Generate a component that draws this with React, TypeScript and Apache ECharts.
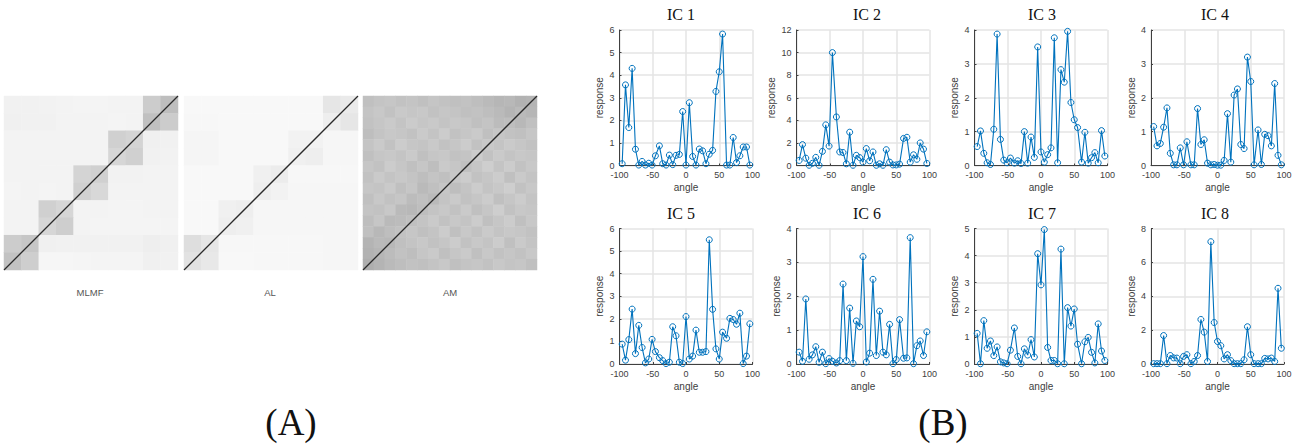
import React, { useEffect, useRef } from "react";
import * as echarts from "echarts";

const angles = [-96,-91,-86,-81,-76,-71,-66,-61,-56,-51,-46,-40,-35,-30,-25,-20,-15,-10,-5,0,5,10,15,20,25,30,35,40,45,50,55,61,66,71,76,81,86,91,96];

const ic1 = [0.08,3.57,1.68,4.3,0.72,0.02,0.18,0.02,0.1,0.02,0.43,0.87,0.08,0.02,0.46,0.04,0.45,0.49,2.39,0.02,2.78,0.4,0.02,0.73,0.65,0.08,0.5,0.67,3.28,4.15,5.82,0.02,0.02,1.24,0.13,0.43,0.82,0.82,0.02];
const ic2 = [0.45,1.85,0.65,0.02,0.2,0.72,0.02,1.25,3.6,1.72,10,4.3,1.2,1.15,0.15,2.95,0.02,0.9,0.7,0.3,1.5,0.42,1.2,0.02,0.15,0.02,1.4,0.3,0.05,0.05,0.12,2.4,2.5,0.3,0.95,0.55,2.0,1.45,0.18];
const ic3 = [0.56,1.02,0.36,0.08,0.03,1.07,3.88,0.77,0.16,0.08,0.22,0.07,0.14,0.06,1.0,0.07,0.84,0.24,3.5,0.4,0.1,0.32,0.52,3.77,0.08,2.83,2.46,3.96,1.86,1.35,1.12,0.1,0.98,0.07,0.23,0.38,0.08,1.03,0.28];
const ic4 = [1.15,0.58,0.65,1.13,1.7,0.36,0.02,0.02,0.52,0.02,0.7,0.02,0.02,1.68,0.62,0.76,0.07,0.02,0.03,0.01,0.01,0.15,1.53,0.1,2.08,2.26,0.62,0.5,3.2,2.48,0.02,1.05,0.03,0.92,0.88,0.58,2.42,0.3,0.02];
const ic5 = [0.88,0.17,1.08,2.43,0.46,1.71,0.73,0.05,0.22,1.09,0.55,0.28,0.15,0.02,0.08,1.65,1.25,0.08,0.02,2.1,0.22,0.35,1.5,0.52,0.52,0.55,5.5,2.42,0.67,0.22,1.41,1.14,2.02,1.97,1.76,2.25,0.02,0.35,1.78];
const ic6 = [0.35,0.08,1.92,0.14,0.27,0.51,0.05,0.35,0.01,0.16,0.08,0.03,0.1,2.36,0.1,1.65,0.02,1.27,1.1,3.17,0.06,0.32,2.5,0.25,1.56,0.35,0.27,1.17,0.01,0.13,1.31,0.17,0.18,3.73,0.01,0.54,0.68,0.25,0.95];
const ic7 = [1.13,0.01,1.6,0.58,0.85,0.31,0.63,0.08,0.04,0.01,0.51,1.33,0.28,0.01,0.56,0.33,0.9,0.26,4.07,2.92,4.96,0.61,0.13,0.13,0.01,4.24,0.01,2.08,1.4,2.03,0.73,0.01,0.82,0.98,0.43,0.04,1.48,0.48,0.13];
const ic8 = [0.02,0.02,0.02,1.68,0.02,0.5,0.36,0.35,0.02,0.45,0.55,0.02,0.15,0.5,2.63,1.88,0.15,7.22,2.45,1.33,1.08,0.3,0.55,0.2,0.02,0.02,0.02,0.25,2.2,0.55,0.02,0.02,0.02,0.33,0.3,0.35,0.15,4.47,0.93];

const icValues = [ic1, ic2, ic3, ic4, ic5, ic6, ic7, ic8];
const icTitles = ["IC 1", "IC 2", "IC 3", "IC 4", "IC 5", "IC 6", "IC 7", "IC 8"];
const icMax = [6, 12, 4, 4, 6, 4, 5, 8];
const icStep = [1, 2, 1, 1, 1, 1, 1, 2];
const xTicks = [-100, 100];

// gray levels, rows from top to bottom
const mlmfGray = [
  [241,241,242,243,244,244,243,243,204,190],
  [240,241,241,243,243,243,244,243,192,204],
  [243,243,243,243,243,243,208,212,240,241],
  [243,243,243,243,243,243,214,208,241,242],
  [243,243,243,243,212,208,242,242,243,243],
  [244,243,244,243,208,216,243,243,243,243],
  [243,243,208,214,243,243,244,244,243,243],
  [243,243,214,206,243,244,244,244,244,244],
  [204,198,240,241,241,241,241,241,238,240],
  [194,206,246,246,245,244,244,244,240,241],
];
const alGray = [
  [248,248,248,248,248,248,248,248,230,234],
  [247,247,248,248,248,248,248,248,238,230],
  [245,245,248,248,248,248,242,242,246,246],
  [245,245,248,248,248,248,240,238,246,246],
  [248,248,248,248,240,236,247,247,247,247],
  [248,248,248,248,238,242,246,246,246,246],
  [248,248,240,238,246,246,246,246,246,246],
  [248,248,238,240,246,246,246,246,246,246],
  [222,230,247,247,247,247,247,247,246,246],
  [226,232,248,248,247,247,247,247,246,246],
];
const amGray = [
  [192,196,198,194,196,192,197,194,192,194,190,186,182,184,178,180],
  [196,200,194,201,198,200,194,198,196,192,194,190,186,180,186,182],
  [194,198,202,196,203,198,201,196,200,198,192,196,188,190,184,192],
  [190,196,200,198,194,202,196,204,194,198,202,192,198,194,192,198],
  [196,202,194,204,198,196,201,194,198,204,194,200,196,202,198,194],
  [192,198,200,196,202,192,198,200,194,196,204,194,202,196,200,198],
  [198,194,204,198,192,198,190,202,198,192,198,206,196,204,194,200],
  [194,202,196,200,196,190,196,192,200,204,194,198,204,192,202,196],
  [198,196,202,192,198,186,192,198,190,196,204,196,200,206,194,200],
  [192,200,194,198,188,192,186,196,202,194,198,204,192,198,204,196],
  [196,194,200,186,184,190,196,200,194,202,192,198,206,194,200,198],
  [190,198,186,188,192,196,202,194,200,196,204,192,198,204,192,200],
  [192,184,190,194,198,192,196,204,192,200,194,202,196,200,198,194],
  [180,186,184,192,196,200,194,198,204,194,200,196,204,192,202,196],
  [178,182,188,194,190,198,202,192,198,202,192,200,194,198,194,200],
  [174,180,186,190,194,192,196,200,192,196,198,194,200,196,198,192],
];
const matrixGrays = [mlmfGray, alGray, amGray];
const matrixNames = ["MLMF", "AL", "AM"];
const diagonal = [[0, 0], [1, 1]];
const panelLabels = ["(A)", "(B)"];

const LINE = "#0072BD";
const AXIS = "#404040";
const SANS = "'Liberation Sans', Arial, sans-serif";
const SERIF = "'Liberation Serif', 'Times New Roman', serif";

const plotLeft = [619.5, 796.5, 974.5, 1151];
const plotWidth = 133;
const plotTop = [30, 228.5];
const plotHeight = [135.5, 135.5];
const titleX = [681, 867, 1042, 1215];
const titleY = [14, 213];

const matrixLeft = [4, 184, 363];
const matrixTop = 96;
const matrixSize = 174;
const matrixLabelX = [90, 270, 450];
const panelLabelX = [291, 943];

function buildOption() {
  const grid: any[] = [];
  const xAxis: any[] = [];
  const yAxis: any[] = [];
  const series: any[] = [];
  const title: any[] = [];
  const heatIdx: number[] = [];

  icValues.forEach((vals, i) => {
    const col = i % 4;
    const row = i < 4 ? 0 : 1;
    const g = grid.length;
    grid.push({ left: plotLeft[col], top: plotTop[row], width: plotWidth, height: plotHeight[row], containLabel: false });
    xAxis.push({
      type: "value", gridIndex: g, min: xTicks[0], max: xTicks[1], interval: 50,
      name: "angle", nameLocation: "middle", nameGap: 17,
      nameTextStyle: { fontFamily: SANS, fontSize: 10, color: AXIS },
      axisLine: { show: true, onZero: false, lineStyle: { color: AXIS, width: 1 } },
      axisTick: { show: true, inside: true, length: 2, lineStyle: { color: AXIS } },
      axisLabel: { fontFamily: SANS, fontSize: 9, color: AXIS, margin: 5, hideOverlap: false },
      splitLine: { show: true, lineStyle: { color: "#e4e4e4", width: 1.5 } },
    });
    yAxis.push({
      type: "value", gridIndex: g, min: 0, max: icMax[i], interval: icStep[i],
      name: "response", nameLocation: "middle", nameGap: icMax[i] >= 10 ? 20 : 15,
      nameTextStyle: { fontFamily: SANS, fontSize: 10, color: AXIS },
      axisLine: { show: true, onZero: false, lineStyle: { color: AXIS, width: 1 } },
      axisTick: { show: true, inside: true, length: 2, lineStyle: { color: AXIS } },
      axisLabel: { fontFamily: SANS, fontSize: 9, color: AXIS, margin: 5 },
      splitLine: { show: true, lineStyle: { color: "#e4e4e4", width: 1.5 } },
    });
    series.push({
      type: "line", xAxisIndex: g, yAxisIndex: g, clip: false, z: 5,
      data: vals.map((v, k) => [angles[k], v]),
      symbol: "circle", symbolSize: 6, showSymbol: true, showAllSymbol: true,
      lineStyle: { color: LINE, width: 1.1 },
      itemStyle: { color: "transparent", borderColor: LINE, borderWidth: 1 },
    });
    title.push({
      text: icTitles[i], left: titleX[col], top: titleY[row], textAlign: "center", textVerticalAlign: "middle",
      textStyle: { fontFamily: SERIF, fontSize: 16, fontWeight: "normal", color: "#111" }, padding: 0,
    });
  });

  matrixGrays.forEach((m, idx) => {
    const rect = { left: matrixLeft[idx], top: matrixTop, width: matrixSize, height: matrixSize };
    const g = grid.length;
    const cats = m.map((_, k) => String(k));
    grid.push(rect);
    xAxis.push({ type: "category", gridIndex: g, data: cats, show: false });
    yAxis.push({ type: "category", gridIndex: g, data: cats, show: false, inverse: true });
    heatIdx.push(series.length);
    const data: number[][] = [];
    m.forEach((r, y) => r.forEach((v, x) => data.push([x, y, v])));
    series.push({ type: "heatmap", xAxisIndex: g, yAxisIndex: g, data, progressive: 0, itemStyle: { borderWidth: 0 } });

    const g2 = grid.length;
    grid.push(rect);
    xAxis.push({ type: "value", gridIndex: g2, min: 0, max: 1, show: false });
    yAxis.push({ type: "value", gridIndex: g2, min: 0, max: 1, show: false });
    series.push({
      type: "line", xAxisIndex: g2, yAxisIndex: g2, data: diagonal, symbol: "none", z: 6,
      lineStyle: { color: "#2a2a2a", width: 1.3 },
    });
    title.push({
      text: matrixNames[idx], left: matrixLabelX[idx], top: 292, textAlign: "center", textVerticalAlign: "middle", padding: 0,
      textStyle: { fontFamily: SANS, fontSize: 9.5, fontWeight: "normal", color: "#555" },
    });
  });

  panelLabels.forEach((t, i) => {
    title.push({
      text: t, left: panelLabelX[i], top: 422, textAlign: "center", textVerticalAlign: "middle", padding: 0,
      textStyle: { fontFamily: SERIF, fontSize: 37, fontWeight: "normal", color: "#111" },
    });
  });

  return {
    animation: false,
    backgroundColor: "#ffffff",
    title, grid, xAxis, yAxis, series,
    visualMap: { show: false, type: "continuous", min: 0, max: 255, seriesIndex: heatIdx, inRange: { color: ["#000000", "#ffffff"] } },
  };
}

export default function App() {
  const ref = useRef<HTMLDivElement>(null);
  useEffect(() => {
    const chart = echarts.init(ref.current!, undefined, { renderer: "svg" });
    chart.setOption(buildOption() as any);
    return () => chart.dispose();
  }, []);
  return <div ref={ref} style={{ position: "fixed", left: 0, top: 0, width: 1301, height: 448 }} />;
}
